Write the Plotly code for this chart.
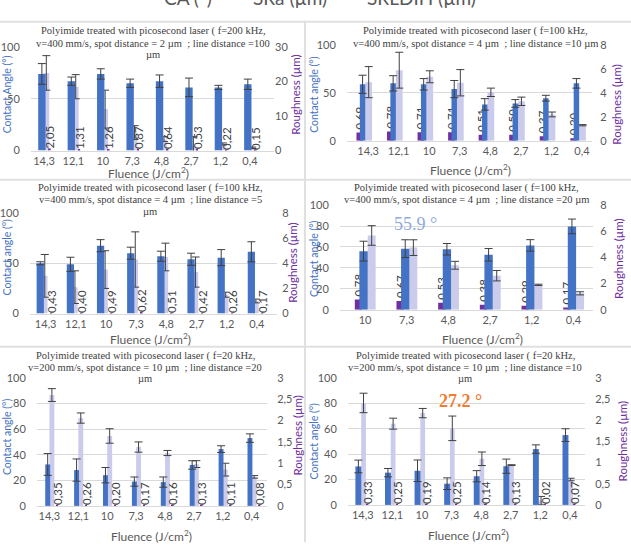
import plotly.graph_objects as go

W, H = 631, 548

# ---------------- data ----------------
cat8 = ["14,3", "12,1", "10", "7,3", "4,8", "2,7", "1,2", "0,4"]
cat6 = ["10", "7,3", "4,8", "2,7", "1,2", "0,4"]

# Panel 1: f=200 kHz, v=400 mm/s, spot 2 um, line 100 um
p1_ca = [74, 67, 74, 65, 67, 61, 61, 64]
p1_ca_err = [10, 4, 5, 4, 6, 9, 2, 5]
p1_sr = [22.5, 18.5, 12, 5.2, 3.3, 1.4, 1.9, 0.8]
p1_sr_err = [5, 3.5, 5.5, 2, 0.7, 2.6, 0.3, 0.2]
p1_sa = [2.05, 1.31, 1.26, 0.87, 0.64, 0.53, 0.22, 0.15]

# Panel 2: f=100 kHz, v=400 mm/s, spot 4 um, line 10 um
p2_ca = [59, 60, 59, 54, 38, 39, 44.5, 60]
p2_ca_err = [9.5, 8, 6, 9, 6, 4, 3, 5]
p2_sr = [4.9, 5.9, 5.35, 4.85, 4.05, 3.3, 2.2, 1.3]
p2_sr_err = [1.3, 1.5, 0.5, 1.1, 0.35, 0.35, 0.2, 0.05]
p2_sa = [0.69, 0.78, 0.71, 0.71, 0.51, 0.50, 0.37, 0.20]

# Panel 3: f=100 kHz, v=400 mm/s, spot 4 um, line 5 um
p3_ca = [50, 49, 67.5, 60, 57, 54, 55.6, 61.4]
p3_ca_err = [1.5, 7, 6, 6, 5, 6, 8, 10]
p3_sr = [3.0, 2.1, 3.5, 4.3, 4.5, 3.3, 1.5, 1.0]
p3_sr_err = [1.7, 1.3, 1.5, 2.2, 1.1, 1.2, 0.2, 0.15]
p3_sa = [0.43, 0.40, 0.49, 0.62, 0.51, 0.42, 0.26, 0.17]

# Panel 4: f=100 kHz, v=400 mm/s, spot 4 um, line 20 um
p4_ca = [56, 58.4, 57.8, 52.5, 61.5, 79.7]
p4_ca_err = [9.5, 8.5, 5.5, 6, 5.5, 7]
p4_sr = [5.68, 4.75, 3.4, 2.6, 1.9, 1.25]
p4_sr_err = [0.75, 0.6, 0.3, 0.4, 0.05, 0.12]
p4_sa = [0.78, 0.67, 0.53, 0.38, 0.29, 0.17]

# Panel 5: f=20 kHz, v=200 mm/s, spot 10 um, line 20 um
p5_ca = [32.4, 28, 24, 19, 18.6, 32, 44.4, 53]
p5_ca_err = [8.5, 8.7, 6, 3.6, 4, 3.3, 2.6, 3.3]
p5_sr = [2.6, 2.06, 1.64, 1.38, 1.24, 0.98, 0.85, 0.68]
p5_sr_err = [0.15, 0.12, 0.17, 0.12, 0.06, 0.08, 0.15, 0.03]
p5_sa = [0.35, 0.26, 0.20, 0.17, 0.16, 0.13, 0.11, 0.08]

# Panel 6: f=20 kHz, v=200 mm/s, spot 10 um, line 10 um
p6_ca = [30.3, 25.4, 26.9, 16.7, 22.6, 30.5, 44, 55]
p6_ca_err = [5, 3.3, 8.5, 4.6, 4.4, 5.6, 3.3, 5]
p6_sr = [2.41, 1.92, 2.17, 1.81, 1.09, 0.94, 0.1, 0.6]
p6_sr_err = [0.23, 0.13, 0.11, 0.29, 0.16, 0.01, 0.1, 0.03]
p6_sa = [0.33, 0.25, 0.19, 0.25, 0.14, 0.13, 0.02, 0.07]

# ---------------- style ----------------
BLUE = "#4472C4"
LAV = "#CBCBEC"
PURP = "#7030A0"
GRAY = "#595959"
ERR = "#404040"
SANS = "Lato"
SERIF = "Liberation Serif"

panels = [
    dict(cats=cat8, ca=p1_ca, cae=p1_ca_err, sr=p1_sr, sre=p1_sr_err, sa=p1_sa, sa_left=True,
         xd=(31, 274), yd=(41, 147), xr=(-0.44, 7.82), rr=(30, 10), ldt=50, rtl=0,
         off=dict(ca=(-0.195, 0.25), sr=(-0.02, 0.2), sa=(0.17, 0.06)),
         title=["Polyimide treated with picosecond laser ( f=200 kHz,",
                "v=400 mm/s, spot distance = 2 µm  ; line distance =100", "µm"],
         tx=153, ty=25, lt=("Contact Angle (°)", 6.5, 90), rt=(296, 90), ft=(148, 170)),
    dict(cats=cat8, ca=p2_ca, cae=p2_ca_err, sr=p2_sr, sre=p2_sr_err, sa=p2_sa, sa_left=False,
         xd=(347, 592), yd=(39, 137), xr=(-0.69, 7.33), rr=(8, 2), ldt=50, rtl=5,
         off=dict(ca=(-0.27, 0.18), sr=(-0.09, 0.22), sa=(-0.38, 0.21)),
         title=["Polyimide treated with picosecond laser ( f=100 kHz,",
                "v=400 mm/s, spot distance = 4 µm  ; line distance =10 µm"],
         tx=475, ty=25, lt=("Contact angle (°)", 314, 90), rt=(617, 100), ft=(470, 167)),
    dict(cats=cat8, ca=p3_ca, cae=p3_ca_err, sr=p3_sr, sre=p3_sr_err, sa=p3_sa, sa_left=True,
         xd=(30, 277), yd=(211, 314), xr=(-0.52, 7.67), rr=(8, 2), ldt=50, rtl=2,
         off=dict(ca=(-0.3, 0.24), sr=(-0.12, 0.18), sa=(0.15, 0.06)),
         title=["Polyimide treated with picosecond laser ( f=100 kHz,",
                "v=400 mm/s, spot distance = 4 µm  ; line distance =5", "µm"],
         tx=150, ty=185, lt=("Contact angle (°)", 6.5, 256), rt=(293, 262), ft=(150, 340)),
    dict(cats=cat6, ca=p4_ca, cae=p4_ca_err, sr=p4_sr, sre=p4_sr_err, sa=p4_sa, sa_left=False,
         xd=(340, 593), yd=(203, 310), xr=(-0.6, 5.47), rr=(8, 2), ldt=20, rtl=4,
         off=dict(ca=(-0.135, 0.2), sr=(0.065, 0.19), sa=(-0.245, 0.17)),
         title=["Polyimide treated with picosecond laser ( f=100 kHz,",
                "v=400 mm/s, spot distance = 4 µm  ; line distance =20 µm"],
         tx=467, ty=185, lt=("Contact angle (°)", 314, 258), rt=(619, 258), ft=(482, 340)),
    dict(cats=cat8, ca=p5_ca, cae=p5_ca_err, sr=p5_sr, sre=p5_sr_err, sa=p5_sa, sa_left=True,
         xd=(37, 267), yd=(380, 511), xr=(-0.43, 7.53), rr=(3, 0.5), ldt=20, rtl=7,
         off=dict(ca=(-0.145, 0.17), sr=(0.0, 0.17), sa=(0.24, 0.06)),
         title=["Polyimide treated with picosecond laser ( f=20 kHz,",
                "v=200 mm/s, spot distance = 10 µm  ; line distance =20", "µm"],
         tx=145, ty=357, lt=("Contact angle (°)", 6.5, 440), rt=(298, 439), ft=(151, 542)),
    dict(cats=cat8, ca=p6_ca, cae=p6_ca_err, sr=p6_sr, sre=p6_sr_err, sa=p6_sa, sa_left=True,
         xd=(348, 585), yd=(380, 510), xr=(-0.5, 7.51), rr=(3, 0.5), ldt=20, rtl=7,
         off=dict(ca=(-0.25, 0.2), sr=(-0.055, 0.16), sa=(0.13, 0.06)),
         title=["Polyimide treated with picosecond laser ( f=20 kHz,",
                "v=200 mm/s, spot distance = 10 µm  ; line distance =10", "µm"],
         tx=465, ty=357, lt=("Contact angle (°)", 314, 445), rt=(622, 445), ft=(468, 541)),
]


def PX(x):
    return x / W


def PY(y):
    return 1 - y / H


fig = go.Figure()
layout = dict(width=W, height=H, margin=dict(l=0, r=0, t=0, b=0),
              paper_bgcolor="white", plot_bgcolor="white", showlegend=False,
              barmode="overlay", separators=", ", font=dict(family=SANS, color=GRAY))
annotations = []
shapes = []

errstyle = dict(type="data", color=ERR, thickness=1, width=4)

for k, p in enumerate(panels, start=1):
    xref = "x" if k == 1 else f"x{k}"
    xname = "xaxis" if k == 1 else f"xaxis{k}"
    b = 2 * k - 1
    l = 2 * k
    bref = "y" if b == 1 else f"y{b}"
    bname = "yaxis" if b == 1 else f"yaxis{b}"
    lref = f"y{l}"
    lname = f"yaxis{l}"

    layout[xname] = dict(domain=[PX(p["xd"][0]), PX(p["xd"][1])], type="category",
                         categoryorder="array", categoryarray=p["cats"],
                         range=list(p["xr"]), anchor=bref, showgrid=False,
                         showline=True, linecolor="#D9D9D9", linewidth=1,
                         ticks="", tickfont=dict(size=11, color=GRAY, family=SANS),
                         fixedrange=True)
    rmax, rdt = p["rr"]
    layout[bname] = dict(domain=[PY(p["yd"][1]), PY(p["yd"][0])], range=[0, rmax],
                         dtick=rdt, tick0=0, side="right", anchor=xref, showgrid=False,
                         zeroline=False, ticks="outside" if p["rtl"] > 0 else "",
                         ticklen=max(p["rtl"], 1),
                         tickcolor="rgba(0,0,0,0)",
                         tickfont=dict(size=11, color=GRAY, family=SANS))
    layout[lname] = dict(overlaying=bref, side="left", anchor=xref, range=[0, 100],
                         dtick=p["ldt"], tick0=0, showgrid=True, gridcolor="#D9D9D9",
                         gridwidth=1, zeroline=False, ticks="outside", ticklen=8,
                         tickcolor="rgba(0,0,0,0)",
                         tickfont=dict(size=11, color=GRAY, family=SANS))

    o = p["off"]
    sa_ref = lref if p["sa_left"] else bref
    labels = [f"{v:.2f}".replace(".", ",") for v in p["sa"]]
    # Sa bars (purple) with labels
    fig.add_trace(go.Bar(x=p["cats"], y=p["sa"], xaxis=xref, yaxis=sa_ref,
                         marker=dict(color=PURP, line=dict(width=0)),
                         offset=o["sa"][0], width=o["sa"][1],
                         text=labels, textposition="outside", textangle=-90,
                         constraintext="none", cliponaxis=False,
                         textfont=dict(size=11.5, color=ERR, family=SANS)))
    # SRLDIH bars (lavender) on right axis
    fig.add_trace(go.Bar(x=p["cats"], y=p["sr"], xaxis=xref, yaxis=bref,
                         marker=dict(color=LAV, line=dict(width=0)),
                         offset=o["sr"][0], width=o["sr"][1],
                         error_y=dict(array=p["sre"], **errstyle)))
    # Contact angle bars (blue) on left axis
    fig.add_trace(go.Bar(x=p["cats"], y=p["ca"], xaxis=xref, yaxis=lref,
                         marker=dict(color=BLUE, line=dict(width=0)),
                         offset=o["ca"][0], width=o["ca"][1],
                         error_y=dict(array=p["cae"], **errstyle)))

    # title lines
    for i, line in enumerate(p["title"]):
        annotations.append(dict(text=line, x=PX(p["tx"]), y=PY(p["ty"] + 12 * i),
                                xref="paper", yref="paper", xanchor="center",
                                yanchor="middle", showarrow=False,
                                font=dict(family=SERIF, size=10.5, color="#404040")))
    # axis titles
    t, lx, ly = p["lt"]
    annotations.append(dict(text=t, x=PX(lx), y=PY(ly), xref="paper", yref="paper",
                            xanchor="center", yanchor="middle", showarrow=False,
                            textangle=-90, font=dict(family=SANS, size=10.5, color=BLUE)))
    rx, ry = p["rt"]
    annotations.append(dict(text="Roughness (µm)", x=PX(rx), y=PY(ry), xref="paper",
                            yref="paper", xanchor="center", yanchor="middle",
                            showarrow=False, textangle=-90,
                            font=dict(family=SANS, size=11.5, color=PURP)))
    fx, fy = p["ft"]
    annotations.append(dict(text="Fluence (J/cm<sup>2</sup>)", x=PX(fx), y=PY(fy),
                            xref="paper", yref="paper", xanchor="center",
                            yanchor="middle", showarrow=False,
                            font=dict(family=SANS, size=12, color=GRAY)))

# highlighted values
annotations.append(dict(text="55.9 °", x=PX(415), y=PY(222), xref="paper", yref="paper",
                        showarrow=False, xanchor="center", yanchor="middle",
                        font=dict(family=SERIF, size=18, color="#8FAADC")))
annotations.append(dict(text="<b>27.2 °</b>", x=PX(460), y=PY(404), xref="paper",
                        yref="paper", showarrow=False, xanchor="center", yanchor="middle",
                        font=dict(family=SERIF, size=18, color="#ED7D31")))

# header (cut off at top)
for txt, hx in [("CA (°)", 188), ("SRa (µm)", 290), ("SRLDIH (µm)", 421)]:
    annotations.append(dict(text=txt, x=PX(hx), y=PY(-10), xref="paper", yref="paper",
                            showarrow=False, xanchor="center", yanchor="middle",
                            font=dict(family=SANS, size=19, color=GRAY)))

# panel separators
for yy in [15, 177, 348]:
    shapes.append(dict(type="line", xref="paper", yref="paper", x0=0, x1=1,
                       y0=PY(yy), y1=PY(yy), line=dict(color="#E0E0E0", width=2)))
shapes.append(dict(type="line", xref="paper", yref="paper", x0=PX(305), x1=PX(305),
                   y0=PY(15), y1=0, line=dict(color="#E0E0E0", width=2)))

layout["annotations"] = annotations
layout["shapes"] = shapes
fig.update_layout(**layout)

fig.write_html("out.html")
